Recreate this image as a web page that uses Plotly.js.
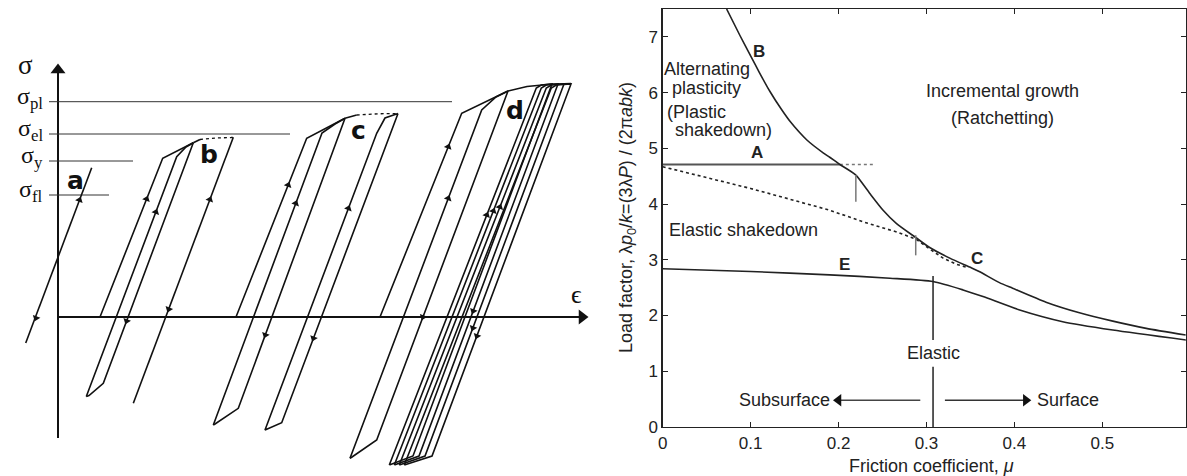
<!DOCTYPE html>
<html><head><meta charset="utf-8">
<script src="https://cdn.plot.ly/plotly-3.0.1.min.js"></script>
<style>html,body{margin:0;padding:0;background:#fff}#chart{width:1187px;height:476px}</style>
</head><body><div id="chart"></div>
<script>
// ================= Right panel: shakedown map (friction coefficient vs load factor) =================
const muB    = [0.0727, 0.088, 0.1, 0.11, 0.122, 0.135, 0.145, 0.164, 0.1825, 0.19, 0.2015, 0.2197, 0.2356, 0.2507, 0.266, 0.2878, 0.3037, 0.3265, 0.349, 0.36, 0.383, 0.398, 0.436, 0.474, 0.512, 0.55, 0.595];
const loadB  = [7.5, 7.02, 6.66, 6.36, 6.02, 5.70, 5.48, 5.15, 4.92, 4.84, 4.71, 4.52, 4.19, 3.89, 3.65, 3.40, 3.22, 3.03, 2.87, 2.79, 2.59, 2.49, 2.24, 2.05, 1.90, 1.77, 1.65];
const muA    = [0, 0.2015];
const loadA  = [4.71, 4.71];
const muAext = [0.2015, 0.239];
const loadAext = [4.71, 4.71];
const muES   = [0, 0.1, 0.19, 0.228, 0.266, 0.288, 0.304, 0.319, 0.334, 0.345];
const loadES = [4.67, 4.28, 3.89, 3.68, 3.50, 3.37, 3.19, 3.03, 2.92, 2.87];
const muE    = [0, 0.1, 0.19, 0.2585, 0.3075, 0.3416, 0.3643, 0.406, 0.455, 0.512, 0.5955];
const loadE  = [2.84, 2.79, 2.73, 2.67, 2.61, 2.46, 2.34, 2.10, 1.89, 1.74, 1.56];
const tickMarkMu   = [0.2197, 0.2878];
const tickMarkTop  = [4.52, 3.44];
const tickMarkBot  = [4.04, 3.08];
const muElastic    = 0.3075;
const elasticUpper = [2.71, 1.56];
const elasticLower = [1.08, 0];
const arrowLoad    = 0.48;
const subsurfaceArrow = [0.293, 0.2];   // tail, arrowhead centre
const surfaceArrow    = [0.321, 0.413]; // tail, arrowhead centre
const xTicks = [0, 0.1, 0.2, 0.3, 0.4, 0.5];
const xTickText = ['0', '0.1', '0.2', '0.3', '0.4', '0.5'];
const yTicks = [0, 1, 2, 3, 4, 5, 6, 7];

// ================= Left panel: schematic stress-strain loops (ε, σ units) =================
const sigAxis = [-121, 247];   // σ axis: bottom, arrowhead centre
const epsAxis = [0, 524];      // ε axis: start, arrowhead centre
const levelNames = ['pl', 'el', 'y', 'fl'];
const levelSig   = [215.3, 183, 156, 122];
const levelEnd   = [394, 232, 75, 51];
const levelStart = -9;

const aEps = [-32.3, 33.7], aSig = [-26, 149.3];

const bLoadEps = [42, 104.7, 135.3],            bLoadSig = [0, 158.7, 174.3];
const bUpEps   = [28.3, 118.7, 128, 135.3],     bUpSig   = [-79.5, 160.3, 170, 174.3];
const bDownEps = [135.3, 45.3, 31, 28.3],       bDownSig = [174.3, -66.3, -78.5, -79.5];
const bTopEps  = [135.3, 142],                  bTopSig  = [174.3, 177.5];
const bDotEps  = [142, 158, 173, 175.3],        bDotSig  = [177.5, 179, 179.5, 179.7];
const bUnloadEps = [175.3, 75.3],               bUnloadSig = [179.7, -86.3];

const cLoadEps = [178, 248.7, 287],             cLoadSig = [0, 178.7, 198.7];
const cUpEps   = [155.3, 264, 277, 287],        cUpSig   = [-108, 184, 193, 198.7];
const cDownEps = [287, 180.3, 157, 155.3],      cDownSig = [198.7, -91.3, -107, -108];
const cTopEps  = [287, 298.7],                  cTopSig  = [198.7, 202];
const cDotEps  = [298.7, 320, 340],             cDotSig  = [202, 203.2, 203.5];
const cLoopEps = [340, 223.7, 207, 318.7, 327, 340], cLoopSig = [203.5, -105.7, -113, 183.7, 199, 203.5];

const dLoadEps = [322, 403.7, 450],             dLoadSig = [0, 203.7, 226];
const dUpEps   = [292, 423.7, 438, 450],        dUpSig   = [-141.3, 207, 220, 226];
const dDownEps = [450, 318.7, 294, 292],        dDownSig = [226, -123, -140, -141.3];
const dEnvEps  = [450, 469, 492, 513],          dEnvSig  = [226, 230.5, 232.7, 233.5];
const dUpBotEps   = [331.3, 336.3, 341.3, 346.3];
const dUpTopEps   = [478.3, 483.3, 488.3, 493.3];
const dCapEps     = [483.3, 488.3, 493.3, 498.3];
const dDownTopEps = [494, 500, 506, 513];
const dDownBotEps = [355, 361, 367, 374];
const dLoopSig    = [-148, 229, 232, 233, -139, -148];

const upArrowEps   = [21.5, 88.6, 97.9, 151.9, 230.2, 237.8, 290.5, 390.3, 390.3, 428.8, 435.4, 441.9];
const upArrowSig   = [117, 118, 105, 117.5, 132, 113.7, 108.7, 170.3, 118.7, 102, 106, 110];
const downArrowEps = [-22, 68.6, 110.7, 207.3, 255.4, 365, 415.2, 414.9, 418.9];
const downArrowSig = [-1, -4, 7.8, -18, -21.3, 0, 6, -11, -19];

const loopLabels   = ['a', 'b', 'c', 'd'];
const loopLabelEps = [17, 151, 300.3, 457];
const loopLabelSig = [137, 163, 187, 207];

// ================= Build traces =================
const INK = '#111';
const traces = [];
function leftPath(xs, ys, opt) {
  opt = opt || {};
  traces.push({type: 'scatter', mode: 'lines', x: xs, y: ys, xaxis: 'x2', yaxis: 'y2',
    line: {color: opt.color || INK, width: opt.width || 1.6, dash: opt.dash || 'solid'},
    hoverinfo: 'skip', showlegend: false});
}
function rightPath(xs, ys, opt) {
  opt = opt || {};
  traces.push({type: 'scatter', mode: 'lines', x: xs, y: ys, xaxis: 'x', yaxis: 'y',
    line: {color: opt.color || '#222', width: opt.width || 1.6, dash: opt.dash || 'solid', shape: opt.shape || 'linear', smoothing: 0.6},
    hoverinfo: 'skip', showlegend: false});
}
function heads(xs, ys, axX, axY, symbol, size, color, angle) {
  traces.push({type: 'scatter', mode: 'markers', x: xs, y: ys, xaxis: axX, yaxis: axY, cliponaxis: false,
    marker: {symbol: symbol, size: size, angle: angle || 0, color: color, line: {width: 0}},
    hoverinfo: 'skip', showlegend: false});
}

// left: coordinate axes with arrowheads
leftPath([0, 0], sigAxis, {width: 2});
leftPath(epsAxis, [0, 0], {width: 2});
heads([0], [sigAxis[1]], 'x2', 'y2', 'triangle-up', 13, INK);
heads([epsAxis[1]], [0], 'x2', 'y2', 'triangle-right', 13, INK);
// left: threshold levels
levelSig.forEach((s, i) => leftPath([levelStart, levelEnd[i]], [s, s], {width: 1, color: '#333'}));
// loop a
leftPath(aEps, aSig);
// loop b
leftPath(bLoadEps, bLoadSig); leftPath(bUpEps, bUpSig); leftPath(bDownEps, bDownSig);
leftPath(bTopEps, bTopSig); leftPath(bDotEps, bDotSig, {dash: 'dot', width: 1.3}); leftPath(bUnloadEps, bUnloadSig);
// loop c
leftPath(cLoadEps, cLoadSig); leftPath(cUpEps, cUpSig); leftPath(cDownEps, cDownSig);
leftPath(cTopEps, cTopSig); leftPath(cDotEps, cDotSig, {dash: 'dot', width: 1.3}); leftPath(cLoopEps, cLoopSig);
// loop d
leftPath(dLoadEps, dLoadSig); leftPath(dUpEps, dUpSig); leftPath(dDownEps, dDownSig); leftPath(dEnvEps, dEnvSig);
dUpBotEps.forEach((e, k) => {
  leftPath([e, dUpTopEps[k], dCapEps[k], dDownTopEps[k], dDownBotEps[k], e], dLoopSig);
});
// arrowheads on loops
heads(upArrowEps, upArrowSig, 'x2', 'y2', 'triangle-up', 7, INK, 21);
heads(downArrowEps, downArrowSig, 'x2', 'y2', 'triangle-down', 7, INK, 21);

// right panel curves
rightPath(muA, loadA, {color: '#555', width: 2.2});
rightPath(muAext, loadAext, {color: '#777', width: 1.5, dash: 'dot'});
rightPath(muES, loadES, {color: '#222', width: 1.6, dash: 'dot'});
rightPath(muB, loadB, {color: '#222', width: 1.6, shape: 'spline'});
rightPath(muE, loadE, {color: '#222', width: 1.6, shape: 'spline'});
tickMarkMu.forEach((m, i) => rightPath([m, m], [tickMarkTop[i], tickMarkBot[i]], {color: '#777', width: 1.5}));
rightPath([muElastic, muElastic], elasticUpper, {color: '#222', width: 1.5});
rightPath([muElastic, muElastic], elasticLower, {color: '#222', width: 1.5});
// subsurface / surface arrows
rightPath(subsurfaceArrow, [arrowLoad, arrowLoad], {color: '#444', width: 1.5});
rightPath(surfaceArrow, [arrowLoad, arrowLoad], {color: '#333', width: 1.5});
heads([subsurfaceArrow[1]], [arrowLoad], 'x', 'y', 'triangle-left', 11, '#111');
heads([surfaceArrow[1]], [arrowLoad], 'x', 'y', 'triangle-right', 11, '#111');

// ================= Annotations =================
const SANS = 'Liberation Sans, Arial, Helvetica, sans-serif';
const SERIF = 'Liberation Serif, DejaVu Serif, serif';
const ann = [];
function rText(text, x, y, size, extra) {
  ann.push(Object.assign({xref: 'x', yref: 'y', x: x, y: y, text: text, showarrow: false,
    font: {family: SANS, size: size, color: '#222'}, xanchor: 'center', yanchor: 'middle'}, extra || {}));
}
function lText(text, x, y, font, extra) {
  ann.push(Object.assign({xref: 'x2', yref: 'y2', x: x, y: y, text: text, showarrow: false,
    font: font, xanchor: 'center', yanchor: 'middle'}, extra || {}));
}
lText('σ', -33, 252, {family: SERIF, size: 27, color: INK});
lText('ϵ', 518.7, 23, {family: SERIF, size: 26, color: INK});
levelNames.forEach((n, i) => lText('σ<sub>' + n + '</sub>', levelStart - 5, levelSig[i] + 4,
  {family: SERIF, size: 24, color: INK}, {xanchor: 'right', borderpad: 0}));
loopLabels.forEach((l, i) => lText('<b>' + l + '</b>', loopLabelEps[i], loopLabelSig[i],
  {family: 'DejaVu Sans, sans-serif', size: 25, color: INK}));

// right text
rText('Incremental growth', 0.387, 6.03, 18);
rText('(Ratchetting)', 0.387, 5.54, 18);
rText('Alternating', 0.05, 6.43, 18);
rText('plasticity', 0.05, 6.09, 18);
rText('(Plastic', 0.0386, 5.65, 18);
rText('shakedown)', 0.069, 5.33, 18);
rText('Elastic shakedown', 0.0916, 3.53, 18);
rText('Elastic', muElastic, 1.33, 18);
rText('Subsurface', 0.139, arrowLoad, 18);
rText('Surface', 0.461, arrowLoad, 18);
rText('<b>B</b>', 0.11, 6.73, 17);
rText('<b>A</b>', 0.107, 4.92, 17);
rText('<b>E</b>', 0.207, 2.91, 17);
rText('<b>C</b>', 0.357, 3.03, 17);
// axis titles
ann.push({xref: 'paper', yref: 'paper', x: 627 / 1187, y: 0.542, textangle: -90, showarrow: false,
  text: 'Load factor, λ<i>p</i><sub>0</sub>/<i>k</i>=(3λ<i>P</i>) / (2π<i>abk</i>)',
  font: {family: SANS, size: 18, color: '#222'}, xanchor: 'center', yanchor: 'middle'});
ann.push({xref: 'paper', yref: 'paper', x: 931 / 1187, y: 0.021, showarrow: false,
  text: 'Friction coefficient, <i>μ</i>', font: {family: SANS, size: 18, color: '#222'}, xanchor: 'center', yanchor: 'middle'});

const layout = {
  width: 1187, height: 476, margin: {l: 0, r: 0, t: 0, b: 0},
  paper_bgcolor: '#fff', plot_bgcolor: 'rgba(0,0,0,0)', showlegend: false,
  font: {family: SANS, color: '#222'},
  xaxis: {domain: [662.7 / 1187, 1185.8 / 1187], range: [0, 0.595], anchor: 'y',
    showline: true, linecolor: '#222', linewidth: 1.4, mirror: 'ticks', ticks: 'inside', ticklen: 5, tickwidth: 1, tickcolor: '#222',
    tickvals: xTicks, ticktext: xTickText, tickfont: {family: SANS, size: 17, color: '#222'},
    showgrid: false, zeroline: false, fixedrange: true},
  yaxis: {domain: [49 / 476, 467 / 476], range: [0, 7.5], anchor: 'x',
    showline: true, linecolor: '#222', linewidth: 1.4, mirror: 'ticks', ticks: 'inside', ticklen: 5, tickwidth: 1, tickcolor: '#222',
    tickvals: yTicks, tickfont: {family: SANS, size: 17, color: '#222'},
    showgrid: false, zeroline: false, fixedrange: true},
  xaxis2: {domain: [0, 0.5], range: [-58, 535.5], anchor: 'y2', visible: false, fixedrange: true},
  yaxis2: {domain: [0, 1], range: [-159, 317], anchor: 'x2', visible: false, fixedrange: true},
  annotations: ann
};
Plotly.newPlot('chart', traces, layout, {staticPlot: true, displayModeBar: false});
</script></body></html>
